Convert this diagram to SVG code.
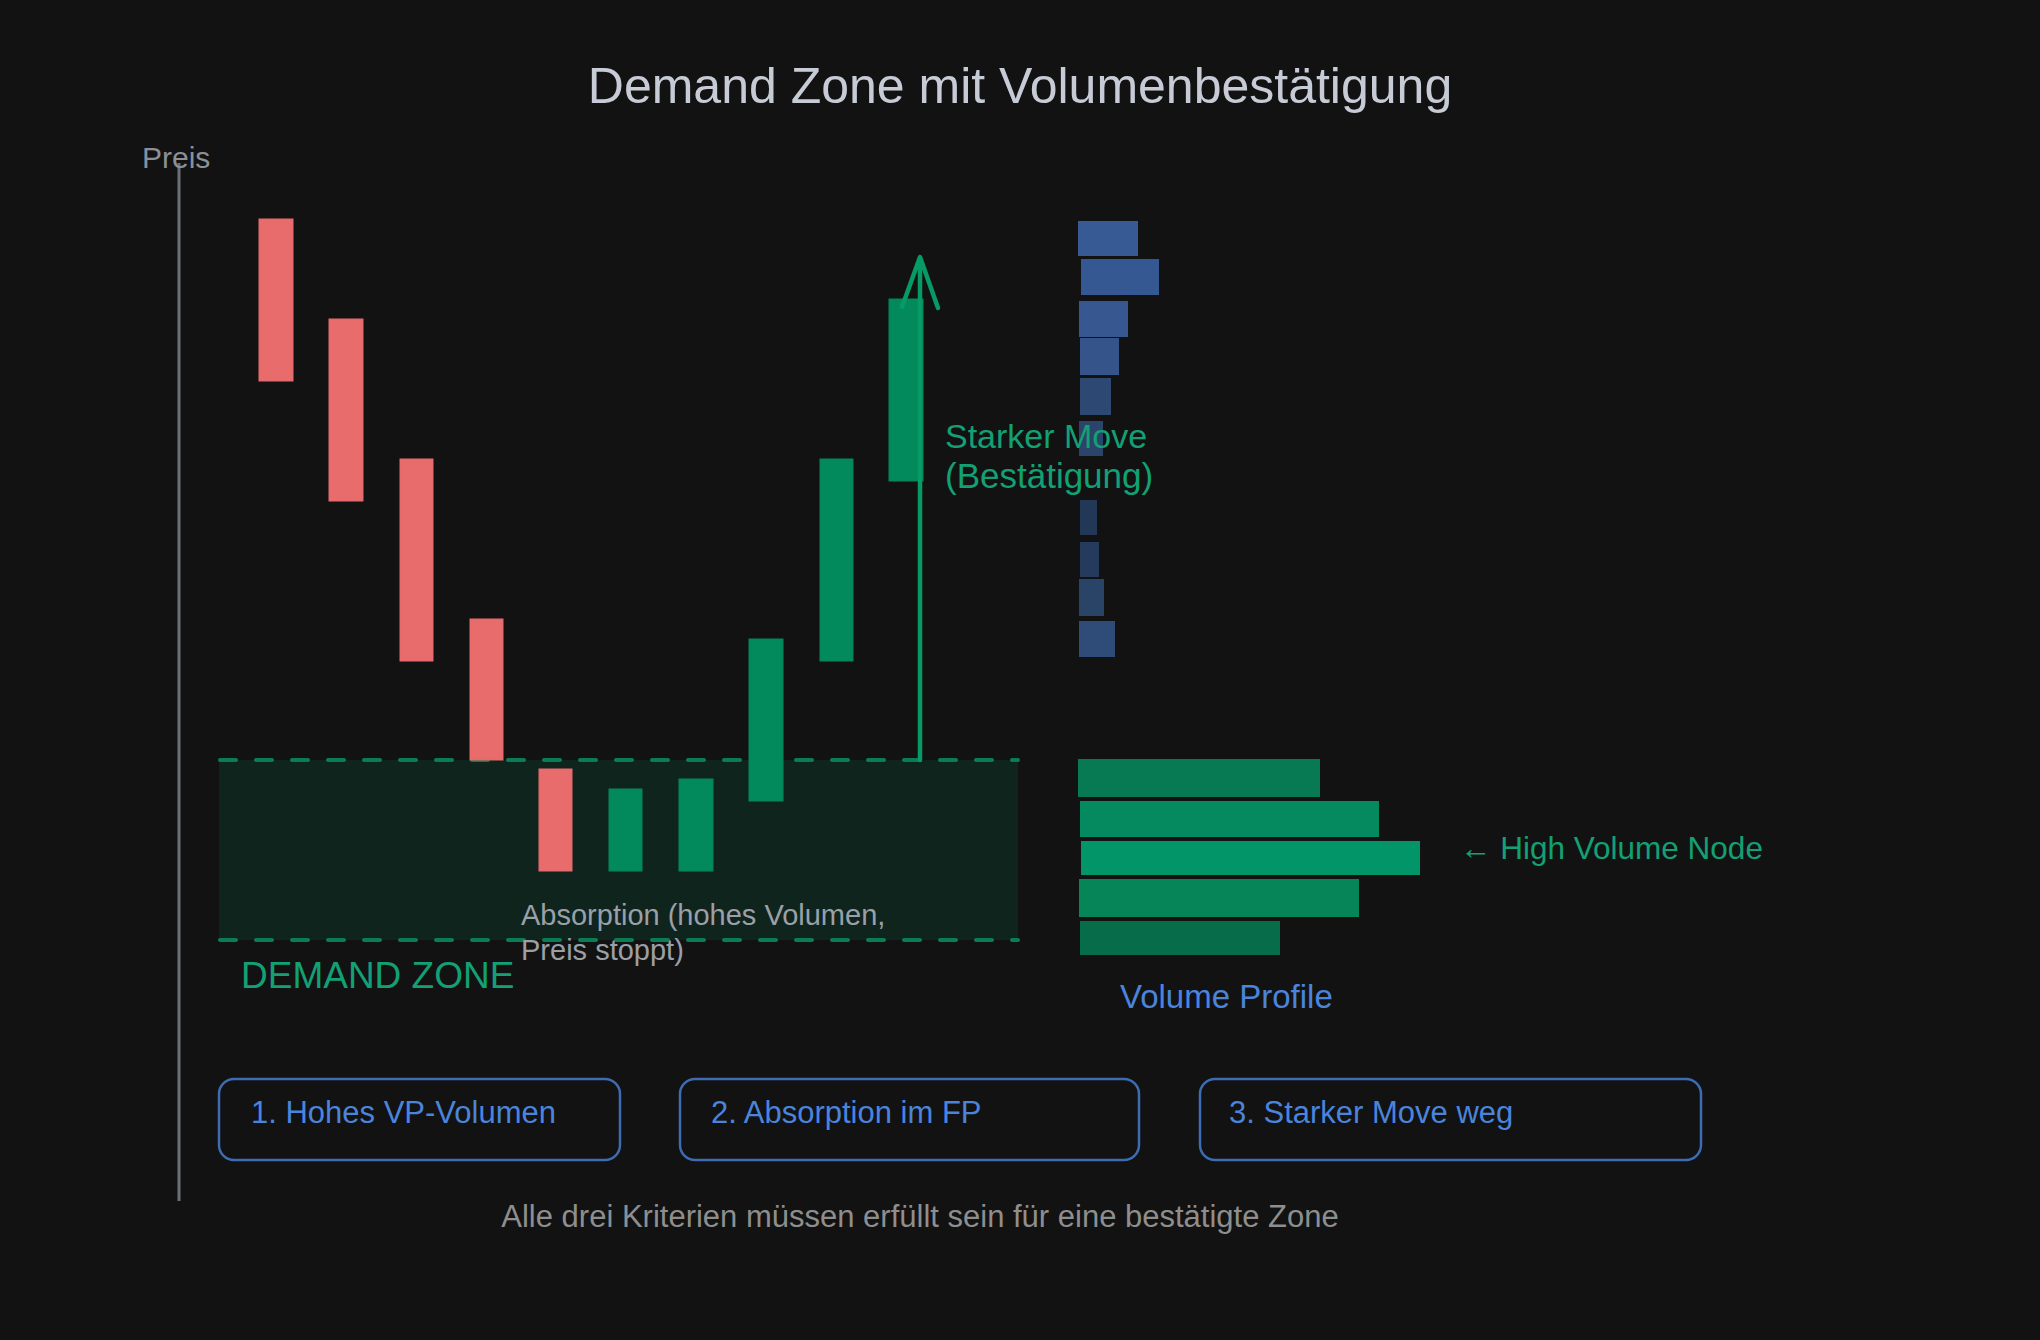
<svg xmlns="http://www.w3.org/2000/svg" width="2040" height="1340" viewBox="0 0 2040 1340">
<style>
text{font-family:"Liberation Sans",Arial,sans-serif}
.title{fill:#c6cbd6;font-size:50px}
.gray{fill:#8b9098}
.green{fill:#12a074}
.blue{fill:#4a84dc}
.red{fill:#e86c6c;stroke:#e5696a;stroke-width:1}
.grn{fill:#038a5c;stroke:#048558;stroke-width:1}
.box{fill:none;stroke:#3d6cb2;stroke-width:2.5}
.dash{stroke:#0b7d55;stroke-width:4;stroke-dasharray:16 20;stroke-linecap:round;fill:none}
.arrow{stroke:#069a66;stroke-width:4.5;fill:none;stroke-linecap:round;stroke-linejoin:round}
</style>
<rect width="2040" height="1340" fill="#121212"/>

<g id="title"><text class="title" x="1020" y="103" text-anchor="middle">Demand Zone mit Volumenbestätigung</text></g>

<g id="axis">
<line x1="179" y1="163" x2="179" y2="1201" stroke="#6b6f76" stroke-width="3"/>
<text class="gray" x="142" y="168" font-size="30">Preis</text>
</g>

<g id="demand-zone">
<rect x="219" y="760" width="799" height="180" fill="#10241e"/>
<line class="dash" x1="220" y1="760" x2="1018" y2="760"/>
<line class="dash" x1="220" y1="940" x2="1018" y2="940"/>
<text class="green" x="241" y="988" font-size="37">DEMAND ZONE</text>
</g>

<g id="candles">
<rect class="red" x="259" y="219" width="34" height="162"/>
<rect class="red" x="329" y="319" width="34" height="182"/>
<rect class="red" x="400" y="459" width="33" height="202"/>
<rect class="red" x="470" y="619" width="33" height="141"/>
<rect class="red" x="539" y="769" width="33" height="102"/>
<rect class="grn" x="609" y="789" width="33" height="82"/>
<rect class="grn" x="679" y="779" width="34" height="92"/>
<rect class="grn" x="749" y="639" width="34" height="162"/>
<rect class="grn" x="820" y="459" width="33" height="202"/>
<rect class="grn" x="889" y="299" width="34" height="182"/>
</g>

<g id="connectors">
<path class="arrow" d="M920 760 L920 258"/>
<path class="arrow" d="M902 307 L920 257 L938 308"/>
</g>

<g id="volume-profile-upper">
<rect x="1078" y="221" width="60" height="35" fill="#375a94"/>
<rect x="1081" y="259" width="78" height="36" fill="#365892"/>
<rect x="1079" y="301" width="49" height="36" fill="#36578f"/>
<rect x="1080" y="338" width="39" height="37" fill="#34548a"/>
<rect x="1080" y="378" width="31" height="37" fill="#2d4872"/>
<rect x="1079" y="421" width="24" height="35" fill="#2b446a"/>
<rect x="1080" y="500" width="17" height="35" fill="#233856"/>
<rect x="1080" y="542" width="19" height="35" fill="#253b5d"/>
<rect x="1079" y="579" width="25" height="37" fill="#2a4468"/>
<rect x="1079" y="621" width="36" height="36" fill="#2f4b77"/>
</g>

<g id="volume-profile-lower">
<rect x="1078" y="759" width="242" height="38" fill="#077a54"/>
<rect x="1080" y="801" width="299" height="36" fill="#048a5e"/>
<rect x="1081" y="841" width="339" height="34" fill="#029568"/>
<rect x="1079" y="879" width="280" height="38" fill="#068658"/>
<rect x="1080" y="921" width="200" height="34" fill="#066c4a"/>
<text class="blue" x="1120" y="1008" font-size="33">Volume Profile</text>
</g>

<g id="label-hvn"><text class="green" x="1460" y="859" font-size="31.5">← High Volume Node</text></g>

<g id="label-move">
<text class="green" x="945" y="448" font-size="34">Starker Move</text>
<text class="green" x="945" y="488" font-size="35">(Bestätigung)</text>
</g>

<g id="label-absorption">
<text x="521" y="925" font-size="29" fill="#9aa0a8">Absorption (hohes Volumen,</text>
<text x="521" y="960" font-size="29" fill="#9aa0a8">Preis stoppt)</text>
</g>

<g id="box1">
<rect class="box" x="219" y="1079" width="401" height="81" rx="15"/>
<text class="blue" x="251" y="1123" font-size="31">1. Hohes VP-Volumen</text>
</g>
<g id="box2">
<rect class="box" x="680" y="1079" width="459" height="81" rx="15"/>
<text class="blue" x="711" y="1123" font-size="31">2. Absorption im FP</text>
</g>
<g id="box3">
<rect class="box" x="1200" y="1079" width="501" height="81" rx="15"/>
<text class="blue" x="1229" y="1123" font-size="31">3. Starker Move weg</text>
</g>

<g id="footer"><text x="920" y="1227" font-size="31" fill="#8e8e8e" text-anchor="middle">Alle drei Kriterien müssen erfüllt sein für eine bestätigte Zone</text></g>
</svg>
